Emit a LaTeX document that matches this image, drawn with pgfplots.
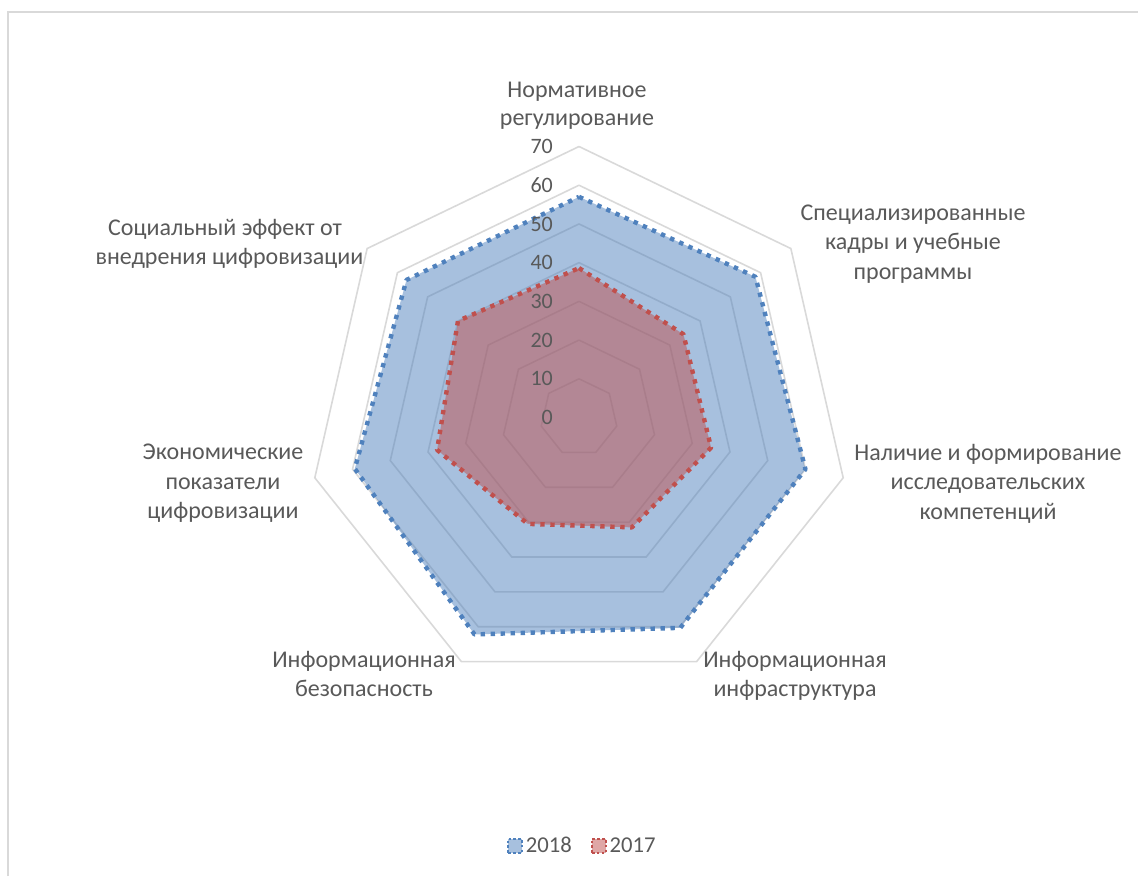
\documentclass[border=0pt]{standalone}
\usepackage{pgfplots}
\pgfplotsset{compat=1.18}
\usepackage{fontspec}
\setmainfont{Carlito}
\definecolor{c18}{HTML}{4F81BD}
\definecolor{c17}{HTML}{C0504D}
\definecolor{grd}{HTML}{D9D9D9}
\definecolor{txt}{HTML}{595959}
\newcommand\lf{\fontsize{16.5pt}{22pt}\selectfont}
\newcommand\cf{\fontsize{18pt}{22pt}\selectfont}
\newcommand\gf{\fontsize{17pt}{22pt}\selectfont}
\begin{document}
\begin{tikzpicture}
\begin{scope}[x=0.75pt,y=-0.75pt]
\path[use as bounding box] (0,0) rectangle (1138,876);
\draw[grd, line width=1.5pt] (8,876) -- (8,12) -- (1138,12);
\end{scope}
\begin{axis}[at={(434.25pt,-313.125pt)}, anchor=center,
  x=2.9036pt, y=2.9036pt, xmin=-70, xmax=70, ymin=-70, ymax=70,
  hide axis, clip=false,
  legend style={at={(0.5065,-0.2906)}, anchor=center, draw=none, fill=none,
    font=\gf, text=txt, legend columns=2,
    /tikz/every even column/.append style={column sep=12pt}},
  legend image code/.code={\draw[#1, line width=1.8pt, dash pattern=on 2pt off 1.6pt]
    (0pt,-5.2pt) rectangle (10.5pt,5.2pt);},
]
\pgfplotsinvokeforeach{10,20,30,40,50,60,70}{
\addplot[grd, line width=1.2pt, line join=miter, data cs=polar, forget plot] coordinates {
(90,#1)(38.571,#1)(-12.857,#1)(-64.286,#1)(-115.714,#1)(-167.143,#1)(141.429,#1)(90,#1)};
}
\addplot[c18, line width=3.3pt, dash pattern=on 3.3pt off 4.2pt, line join=round,
  fill=c18, fill opacity=0.5, draw opacity=1, data cs=polar] coordinates {
(90,57)(38.571,58.3)(-12.857,60)(-64.286,60.3)(-115.714,62.2)(-167.143,59.4)(141.429,57)(90,57)};
\addlegendentry{2018}
\addplot[c17, line width=3.3pt, dash pattern=on 3.3pt off 4.2pt, line join=round,
  fill=c17, fill opacity=0.5, draw opacity=1, data cs=polar] coordinates {
(90,38.6)(38.571,34.5)(-12.857,35)(-64.286,31.5)(-115.714,30.5)(-167.143,37.6)(141.429,40)(90,38.6)};
\addlegendentry{2017}
\pgfplotsinvokeforeach{0,10,20,30,40,50,60,70}{
\node[anchor=east, inner sep=0pt, font=\lf, text=txt] at (axis cs:-6.7,#1) {#1};
}
\end{axis}
\begin{scope}[x=0.75pt,y=-0.75pt, every node/.style={anchor=base, inner sep=0pt, font=\cf, text=txt}]
\node at (577,97) {Нормативное};
\node at (577,125.5) {регулирование};
\node at (913,220) {Специализированные};
\node at (913,249.5) {кадры и учебные};
\node at (913,279) {программы};
\node at (988,460) {Наличие и формирование};
\node at (988,489.5) {исследовательских};
\node at (988,519) {компетенций};
\node at (795,667) {Информационная};
\node at (795,696) {инфраструктура};
\node at (364,667) {Информационная};
\node at (364,696) {безопасность};
\node at (223,459.5) {Экономические};
\node at (223,489) {показатели};
\node at (223,518.5) {цифровизации};
\node at (225,235) {Социальный эффект от};
\node at (229.5,264) {внедрения цифровизации};
\end{scope}
\end{tikzpicture}
\end{document}
